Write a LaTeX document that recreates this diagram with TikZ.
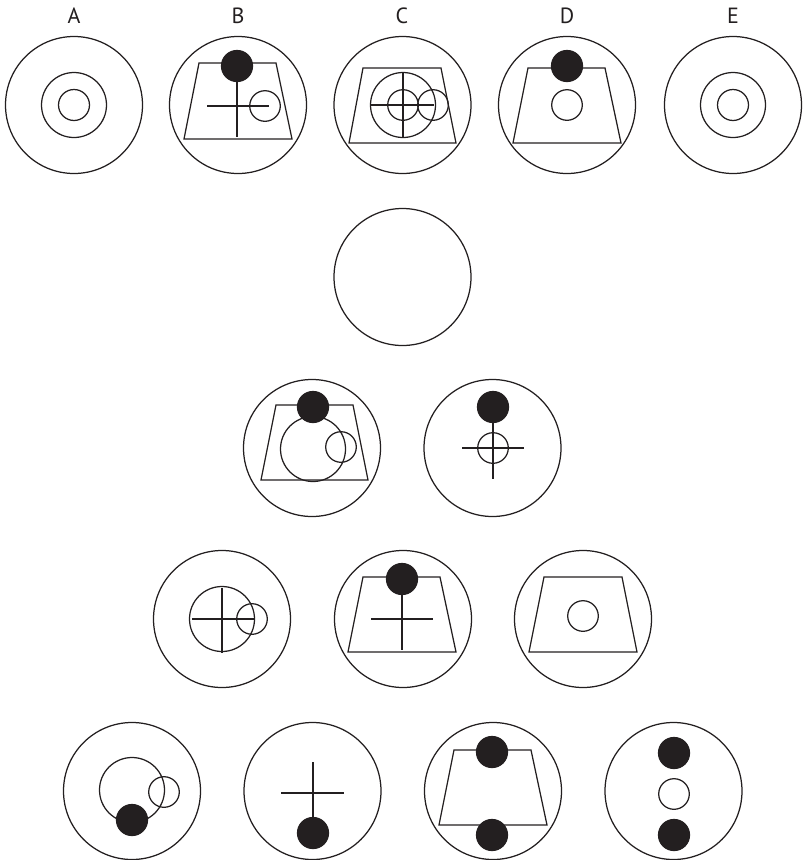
\documentclass[tikz,border=0pt]{standalone}
\usepackage{fontspec}
\setmainfont{PT Sans}
\definecolor{ink}{HTML}{231F20}
\begin{document}
\begin{tikzpicture}[x=1pt,y=-1pt,line width=1.25pt,
  dot/.style={fill=ink,draw=ink},
  lbl/.style={font=\fontsize{22}{26}\selectfont,text=ink,inner sep=0pt}]
\useasboundingbox (0,0) rectangle (803,860);
\begin{scope}[draw=ink]
% labels
\node[lbl] (la) at (74,16) {A};
\node[lbl] (lb) at (238,16) {B};
\node[lbl] (lc) at (402,16) {C};
\node[lbl] (ld) at (567,16) {D};
\node[lbl] (le) at (733,16) {E};
% A
\draw (74,105) circle (68.5);
\draw (74,105) circle (32.5);
\draw (74,105) circle (15.5);
% B
\draw (238,105) circle (68.5);
\draw (199,63) -- (276,63) -- (292,139) -- (184,139) -- cycle;
\draw (237,66) -- (237,137);
\draw (207,106) -- (269,106);
\draw (265,106) circle (15.3);
\draw[dot] (237,66) circle (15.5);
% C
\draw (402.5,105) circle (68.5);
\draw (363,68) -- (441,68) -- (456,143) -- (349,143) -- cycle;
\draw (403,105) circle (32.5);
\draw (403,105) circle (15.3);
\draw (371,105) -- (434,105);
\draw (403,73) -- (403,137);
\draw (433,105) circle (15.3);
% D
\draw (567,105) circle (68.5);
\draw (528,68) -- (605,68) -- (621,143) -- (513,143) -- cycle;
\draw (567,105) circle (15.3);
\draw[dot] (567,66) circle (15.5);
% E
\draw (733,105) circle (68.5);
\draw (733,105) circle (32.5);
\draw (733,105) circle (15.5);
% middle empty
\draw (402.5,277) circle (68.5);
% row 3 left
\draw (312,448) circle (68.5);
\draw (276,405) -- (353,405) -- (368,480) -- (261,480) -- cycle;
\draw (313,449) circle (32.5);
\draw (341,447) circle (15.3);
\draw[dot] (313,407) circle (15.5);
% row 3 right
\draw (492.5,448) circle (68.5);
\draw (493,407) -- (493,479);
\draw (462,448) -- (524,448);
\draw (493,448) circle (15.3);
\draw[dot] (493,407) circle (15.5);
% row 4 left
\draw (222,619) circle (68.5);
\draw (222,619) circle (32.5);
\draw (192,619) -- (254,619);
\draw (222,588) -- (222,653);
\draw (252,619) circle (15.3);
% row 4 middle
\draw (403,619) circle (68.5);
\draw (363,577) -- (440,577) -- (456,652) -- (348,652) -- cycle;
\draw (402,579) -- (402,650);
\draw (371,619) -- (433,619);
\draw[dot] (402,579) circle (15.5);
% row 4 right
\draw (583,619) circle (68.5);
\draw (544,577) -- (622,577) -- (637,652) -- (529,652) -- cycle;
\draw (583,616) circle (15.3);
% row 5 first
\draw (132,791) circle (68.5);
\draw (132,790) circle (32.5);
\draw (164,792) circle (15.3);
\draw[dot] (132,820) circle (15.5);
% row 5 second
\draw (312.5,791) circle (68.5);
\draw (281,793) -- (344,793);
\draw (313,762) -- (313,833);
\draw[dot] (313,833) circle (15.5);
% row 5 third
\draw (493,791) circle (68.5);
\draw (454,750) -- (531,750) -- (547,825) -- (439,825) -- cycle;
\draw[dot] (492,752) circle (15.5);
\draw[dot] (492,835) circle (15.5);
% row 5 fourth
\draw (673.5,791) circle (68.5);
\draw[dot] (674,753) circle (15.5);
\draw (674,794) circle (15.3);
\draw[dot] (674,835) circle (15.5);
\end{scope}
\end{tikzpicture}
\end{document}
